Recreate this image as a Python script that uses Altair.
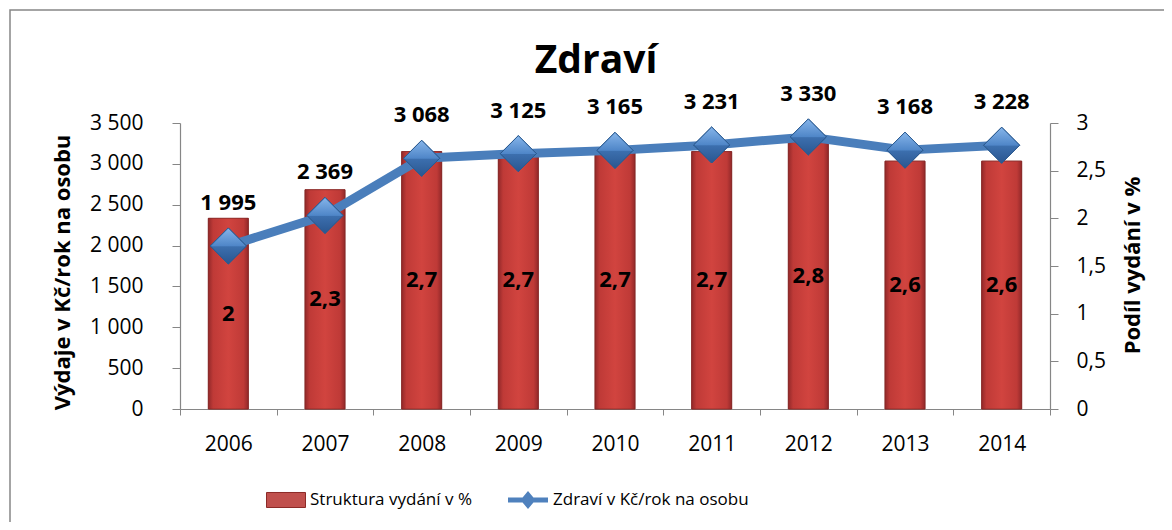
import altair as alt
import pandas as pd

# ---- data ----
years = ["2006", "2007", "2008", "2009", "2010", "2011", "2012", "2013", "2014"]
kc_values = [1995, 2369, 3068, 3125, 3165, 3231, 3330, 3168, 3228]
pct_values = [2.0, 2.3, 2.7, 2.7, 2.7, 2.7, 2.8, 2.6, 2.6]
left_ticks = [0, 500, 1000, 1500, 2000, 2500, 3000, 3500]
right_ticks = [0, 0.5, 1, 1.5, 2, 2.5, 3]
bar_series = "Struktura vydání v %"
line_series = "Zdraví  v Kč/rok na osobu"
title_text = "Zdraví"
left_title = "Výdaje v Kč/rok na osobu"
right_title = "Podíl vydání v %"

FONT = "Open Sans"
GRAY = "#868686"

df = pd.DataFrame({
    "year": years,
    "kc": kc_values,
    "pct": pct_values,
    "kc_label": [f"{v:,}".replace(",", " ") for v in kc_values],
    "pct_label": [f"{v:g}".replace(".", ",") for v in pct_values],
    "pct_mid": [v / 2 for v in pct_values],
    "s1": [bar_series] * len(years),
    "s2": [line_series] * len(years),
})
one_df = pd.DataFrame({"f": [0]})

bar_grad = {
    "gradient": "linear", "x1": 0, "x2": 1, "y1": 0, "y2": 0,
    "stops": [
        {"offset": 0.0, "color": "#93292a"},
        {"offset": 0.12, "color": "#bf3a37"},
        {"offset": 0.5, "color": "#d1443f"},
        {"offset": 0.88, "color": "#bf3a37"},
        {"offset": 1.0, "color": "#93292a"},
    ],
}
dia_grad = {
    "gradient": "linear", "x1": 0, "x2": 0, "y1": 0, "y2": 1,
    "stops": [
        {"offset": 0.0, "color": "#86b5ea"},
        {"offset": 0.5, "color": "#4f86c8"},
        {"offset": 0.52, "color": "#3c6fae"},
        {"offset": 1.0, "color": "#2a5690"},
    ],
}

x_enc = alt.X(
    "year:O", sort=years, title=None,
    scale=alt.Scale(type="band", paddingInner=0, paddingOuter=0),
    axis=alt.Axis(labelAngle=0, tickBand="extent", tickSize=6, labelPadding=18,
                  labelFontSize=21),
)

pct_scale = alt.Scale(domain=[0, 3], nice=False, zero=True)
pct_axis = alt.Axis(
    orient="right", values=right_ticks, tickSize=8, labelPadding=18,
    labelExpr="replace('' + datum.value, '.', ',')",
    title=right_title, titleAngle=270, titleX=82, titleY=142,
    titleAlign="center", titleBaseline="middle",
)
kc_scale = alt.Scale(domain=[0, 3500], nice=False, zero=True)
kc_axis = alt.Axis(
    orient="left", values=left_ticks, tickSize=8, labelPadding=29,
    labelExpr="replace(format(datum.value, ','), ',', ' ')",
    title=left_title, titleAngle=270, titleX=-118, titleY=149,
    titleAlign="center", titleBaseline="middle",
)

base = alt.Chart(df)

# frame around the chart (stroke only) and the chart heading
frame = alt.Chart(one_df).mark_rect(fill="transparent", stroke=GRAY, strokeWidth=1.5).encode(
    x=alt.value(-170), x2=alt.value(1000), y=alt.value(-113), y2=alt.value(420)
)
heading = alt.Chart(one_df).mark_text(
    text=title_text, font=FONT, fontSize=39, fontWeight="bold", color="black",
    align="center", baseline="alphabetic",
).encode(x=alt.value(416), y=alt.value(-50))

bars_legend = base.mark_bar(size=40, stroke="#8c2a27", strokeWidth=0.8).encode(
    x=x_enc,
    y=alt.Y("pct:Q", scale=pct_scale, axis=pct_axis),
    color=alt.Color(
        "s1:N",
        scale=alt.Scale(domain=[bar_series], range=["#c0504d"]),
        legend=alt.Legend(
            title=None, orient="none", legendX=86, legendY=357, padding=0,
            symbolType="M-1,-0.385H1V0.385H-1Z", symbolSize=1521,
            symbolStrokeColor="#8c2a27", symbolStrokeWidth=1,
            labelFont=FONT, labelFontSize=17, labelColor="black", labelOffset=4,
            labelLimit=0,
        ),
    ),
)
bars_grad = base.mark_bar(size=40, fill=bar_grad, stroke="#7d2523", strokeWidth=0.6).encode(
    x=x_enc,
    y=alt.Y("pct:Q", scale=pct_scale, axis=pct_axis),
)
pct_text = base.mark_text(font=FONT, fontSize=22, fontWeight="bold", color="black",
                          baseline="middle").encode(
    x=x_enc,
    y=alt.Y("pct_mid:Q", scale=pct_scale, axis=pct_axis),
    text="pct_label:N",
)
bar_group = alt.layer(bars_legend, bars_grad, pct_text)

line = base.mark_line(color="#4a7ebb", strokeWidth=9, strokeJoin="round").encode(
    x=x_enc,
    y=alt.Y("kc:Q", scale=kc_scale, axis=kc_axis),
)
points_legend = base.mark_point(shape="diamond", filled=True, size=1300, opacity=1,
                                stroke="#2b5a8f", strokeWidth=1).encode(
    x=x_enc,
    y=alt.Y("kc:Q", scale=kc_scale, axis=kc_axis),
    color=alt.Color(
        "s2:N",
        scale=alt.Scale(domain=[line_series], range=["#4f81bd"]),
        legend=alt.Legend(
            title=None, orient="none", legendX=328, legendY=357, padding=0,
            symbolType="M-1,-0.125H1V0.125H-1Z M0,-0.45L0.375,0L0,0.45L-0.375,0Z",
            symbolSize=1600, symbolStrokeWidth=0,
            labelFont=FONT, labelFontSize=17, labelColor="black", labelOffset=5,
            labelLimit=0,
        ),
    ),
)
points_grad = base.mark_point(shape="diamond", filled=True, size=1300, opacity=1,
                              fill=dia_grad, stroke="#2b5a8f", strokeWidth=1).encode(
    x=x_enc,
    y=alt.Y("kc:Q", scale=kc_scale, axis=kc_axis),
)
kc_text = base.mark_text(font=FONT, fontSize=22, fontWeight="bold", color="black",
                         baseline="middle", dy=-43).encode(
    x=x_enc,
    y=alt.Y("kc:Q", scale=kc_scale, axis=kc_axis),
    text="kc_label:N",
)
line_group = alt.layer(line, points_legend, points_grad, kc_text)

chart = alt.layer(frame, heading, bar_group, line_group).resolve_scale(
    y="independent", color="independent"
).properties(
    width=870, height=286,
    autosize=alt.AutoSizeParams(type="none"),
    padding={"left": 172, "top": 115, "right": 114, "bottom": 113},
).configure_axis(
    labelFont=FONT, labelFontSize=21, labelColor="black",
    titleFont=FONT, titleFontSize=22, titleFontWeight="bold", titleColor="black",
    domainColor=GRAY, tickColor=GRAY, grid=False, domainWidth=1.2,
).configure_view(stroke=None)

chart.save("out.html", embed_options={"renderer": "svg", "actions": False})
